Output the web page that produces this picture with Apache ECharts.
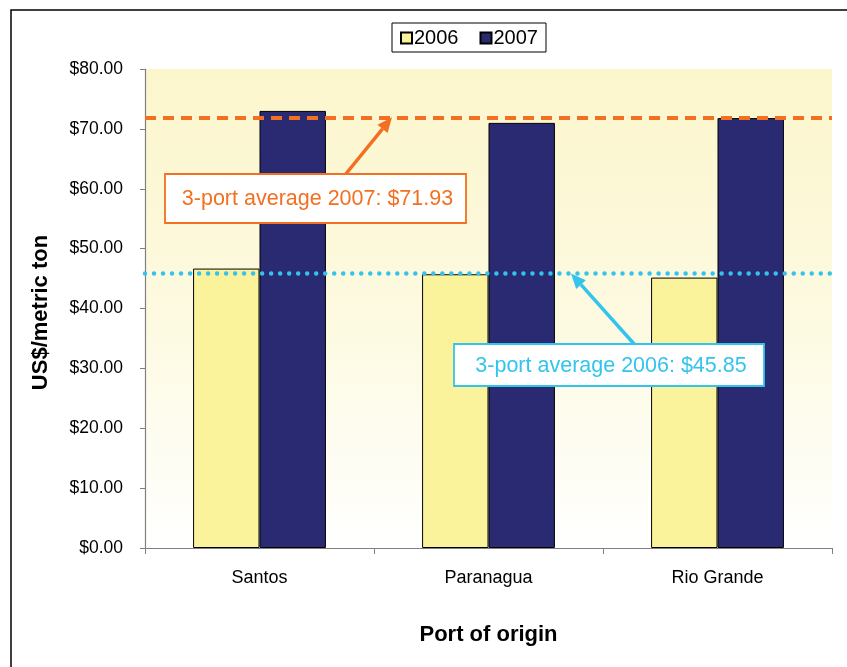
<!DOCTYPE html>
<html>
<head>
<meta charset="utf-8">
<style>
  html, body { margin: 0; padding: 0; background: #ffffff; }
  #chart { width: 847px; height: 667px; }
</style>
<script src="https://cdn.jsdelivr.net/npm/echarts@6/dist/echarts.min.js"></script>
</head>
<body>
<div id="chart"></div>
<script>
// Freight cost per metric ton by Brazilian port of origin
const categories = ['Santos', 'Paranagua', 'Rio Grande'];
const seriesNames = ['2006', '2007'];
const values2006 = [46.67, 45.72, 45.16];
const values2007 = [73.0, 71.0, 71.8];
const avg2006 = 45.85;
const avg2007 = 71.93;
const yMin = 0, yMax = 80, yStep = 10;

const FONT = "'Liberation Sans', Arial, sans-serif";
const ORANGE = '#F36F21';
const CYAN = '#33C4EE';

const chart = echarts.init(document.getElementById('chart'), null, { renderer: 'canvas' });

chart.setOption({
  animation: false,
  backgroundColor: '#ffffff',
  textStyle: { fontFamily: FONT },
  legend: {
    data: seriesNames,
    left: 392,
    top: 23,
    orient: 'horizontal',
    icon: 'rect',
    itemWidth: 11,
    itemHeight: 11,
    itemGap: 21,
    padding: [5, 8, 4, 8],
    borderColor: '#000000',
    borderWidth: 1,
    backgroundColor: '#ffffff',
    textStyle: { fontFamily: FONT, fontSize: 20, color: '#000000', padding: [0, 0, 0, -3] }
  },
  grid: {
    left: 145,
    right: 15,
    top: 69,
    bottom: 119,
    show: true,
    borderWidth: 0,
    backgroundColor: new echarts.graphic.LinearGradient(0, 0, 0, 1, [
      { offset: 0, color: '#FBF6CC' },
      { offset: 0.55, color: '#FDFAE2' },
      { offset: 1, color: '#FFFFFF' }
    ])
  },
  xAxis: {
    type: 'category',
    data: categories,
    name: 'Port of origin',
    nameLocation: 'middle',
    nameGap: 76,
    nameTextStyle: { fontFamily: FONT, fontSize: 22, fontWeight: 'bold', color: '#000000' },
    axisLine: { lineStyle: { color: '#808080', width: 1.2 } },
    axisTick: { show: true, length: 6, alignWithLabel: false, lineStyle: { color: '#808080' } },
    axisLabel: { fontFamily: FONT, fontSize: 18, color: '#000000', margin: 21 },
    splitLine: { show: false }
  },
  yAxis: {
    type: 'value',
    min: yMin,
    max: yMax,
    interval: yStep,
    name: 'US$/metric ton',
    nameLocation: 'middle',
    nameRotate: 90,
    nameGap: 93,
    nameTextStyle: { fontFamily: FONT, fontSize: 22, fontWeight: 'bold', color: '#000000', padding: [0, 0, 0, -8] },
    axisLine: { show: true, lineStyle: { color: '#808080', width: 1.2 } },
    axisTick: { show: true, length: 5, lineStyle: { color: '#808080' } },
    axisLabel: {
      fontFamily: FONT, fontSize: 17.5, color: '#000000', margin: 22,
      formatter: v => '$' + v.toFixed(2)
    },
    splitLine: { show: false }
  },
  series: [
    {
      name: seriesNames[0],
      type: 'bar',
      data: values2006,
      barGap: '0%',
      barCategoryGap: '42%',
      itemStyle: { color: '#FAF39C', borderColor: '#000000', borderWidth: 1 }
    },
    {
      name: seriesNames[1],
      type: 'bar',
      data: values2007,
      barGap: '0%',
      barCategoryGap: '42%',
      itemStyle: { color: '#292A72', borderColor: '#000000', borderWidth: 1 },
      markLine: {
        silent: true,
        symbol: ['none', 'none'],
        label: { show: false },
        data: [
          { yAxis: avg2007, lineStyle: { color: ORANGE, width: 4, type: [11, 7] } },
          { yAxis: avg2006, lineStyle: { color: CYAN, width: 4.5, type: [0.01, 9], cap: 'round' } }
        ]
      }
    }
  ]
});

// Arrow from a callout box to the average line it describes
function arrowGraphic(x1, y1, x2, y2, color) {
  const ang = Math.atan2(y2 - y1, x2 - x1);
  const headLen = 15, headHalf = 6.5;
  const bx = x2 - headLen * Math.cos(ang), by = y2 - headLen * Math.sin(ang);
  const px = -Math.sin(ang), py = Math.cos(ang);
  return [
    { type: 'line', z: 50, shape: { x1: x1, y1: y1, x2: bx, y2: by },
      style: { stroke: color, lineWidth: 3.5 } },
    { type: 'polygon', z: 50,
      shape: { points: [[x2, y2], [bx + px * headHalf, by + py * headHalf], [bx - px * headHalf, by - py * headHalf]] },
      style: { fill: color } }
  ];
}

function callout(x, y, w, h, text, color) {
  return [
    { type: 'rect', z: 60, shape: { x: x, y: y, width: w, height: h },
      style: { fill: '#ffffff', stroke: color, lineWidth: 1.8 } },
    { type: 'text', z: 61, x: x + w / 2 + 2, y: y + h / 2 + 1,
      style: { text: text, fill: color, font: '21.5px ' + FONT, align: 'center', verticalAlign: 'middle' } }
  ];
}

const yAvg07 = chart.convertToPixel({ yAxisIndex: 0 }, avg2007);
const yAvg06 = chart.convertToPixel({ yAxisIndex: 0 }, avg2006);

chart.setOption({
  graphic: [
    // outer frame
    { type: 'rect', z: 1, shape: { x: 11, y: 10, width: 900, height: 700 },
      style: { fill: 'none', stroke: '#000000', lineWidth: 1.5 } },
    ...arrowGraphic(345, 175, 392, yAvg07, ORANGE),
    ...callout(165, 174, 301, 49, '3-port average 2007: $' + avg2007.toFixed(2), ORANGE),
    ...arrowGraphic(635, 345, 571, yAvg06, CYAN),
    ...callout(454, 344, 310, 42, '3-port average 2006: $' + avg2006.toFixed(2), CYAN)
  ]
});
</script>
</body>
</html>
